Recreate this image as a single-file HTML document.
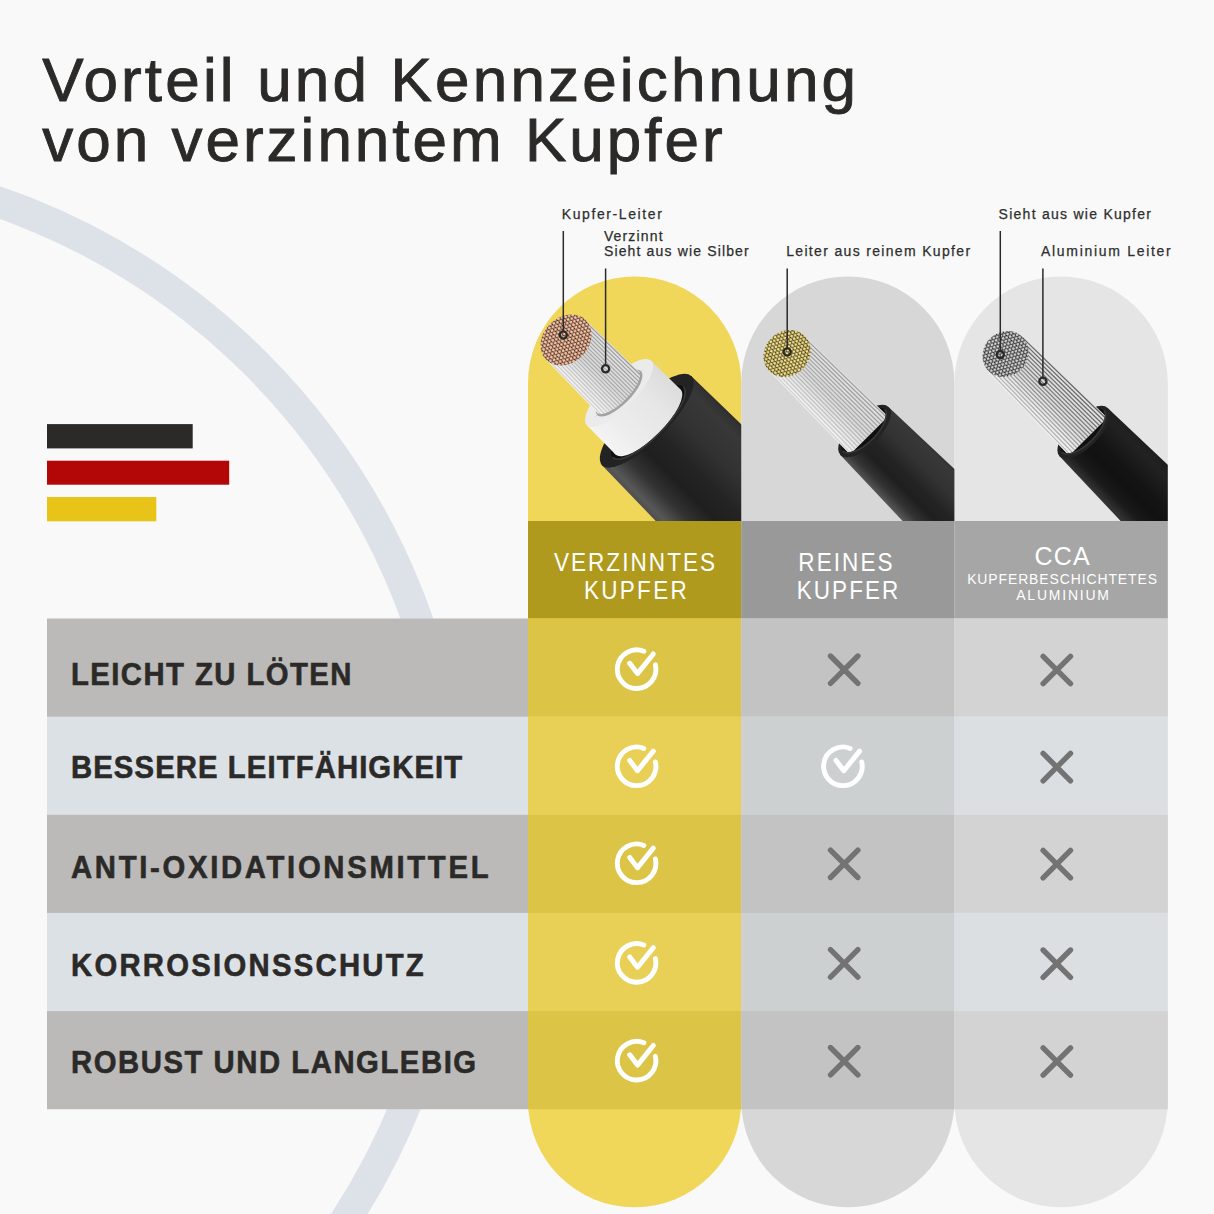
<!DOCTYPE html><html><head><meta charset="utf-8"><style>html,body{margin:0;padding:0;background:#f9f9f9;width:1214px;height:1214px;overflow:hidden}#root{position:relative;width:1214px;height:1214px}</style></head><body><div id="root">
<svg width="1214" height="1214" viewBox="0 0 1214 1214" style="position:absolute;left:0;top:0"><defs><clipPath id="cp0"><path d="M528,383.125 A106.625,106.625 0 0 1 741.25,383.125 L741.25,521 L528,521 Z"/></clipPath><clipPath id="cp1"><path d="M741.25,383.075 A106.57499999999999,106.57499999999999 0 0 1 954.4,383.075 L954.4,521 L741.25,521 Z"/></clipPath><clipPath id="cp2"><path d="M954.4,383.2 A106.69999999999999,106.69999999999999 0 0 1 1167.8,383.2 L1167.8,521 L954.4,521 Z"/></clipPath><linearGradient id="jk" x1="0" y1="0" x2="0" y2="1">
<stop offset="0" stop-color="#2a2a2a"/><stop offset="0.12" stop-color="#383838"/><stop offset="0.32" stop-color="#323232"/><stop offset="0.52" stop-color="#232323"/>
<stop offset="0.66" stop-color="#1f1f1f"/><stop offset="0.8" stop-color="#333333"/><stop offset="0.92" stop-color="#585858"/><stop offset="1" stop-color="#474747"/></linearGradient><linearGradient id="jk3" x1="0" y1="0" x2="0" y2="1">
<stop offset="0" stop-color="#1a1a1a"/><stop offset="0.18" stop-color="#222222"/><stop offset="0.45" stop-color="#141414"/><stop offset="0.6" stop-color="#111111"/>
<stop offset="0.78" stop-color="#1a1a1a"/><stop offset="0.9" stop-color="#333333"/><stop offset="0.97" stop-color="#2c2c2c"/><stop offset="1" stop-color="#1c1c1c"/></linearGradient><linearGradient id="sl" x1="0" y1="0" x2="0" y2="1">
<stop offset="0" stop-color="#dcdcdc"/><stop offset="0.3" stop-color="#e6e6e6"/><stop offset="0.7" stop-color="#ececec"/><stop offset="1" stop-color="#f4f4f4"/></linearGradient><linearGradient id="st" x1="0" y1="0" x2="0" y2="1">
<stop offset="0" stop-color="#e2e2e2"/><stop offset="0.5" stop-color="#dadada"/><stop offset="1" stop-color="#f4f4f4"/></linearGradient><pattern id="pc" width="3.7" height="6.409" patternUnits="userSpaceOnUse"><rect width="3.7" height="6.409" fill="#1e1410"/><circle cx="0" cy="0" r="1.65" fill="#fbc3a2"/><circle cx="3.7" cy="0" r="1.65" fill="#fbc3a2"/><circle cx="1.85" cy="3.204" r="1.65" fill="#fbc3a2"/><circle cx="0" cy="6.409" r="1.65" fill="#fbc3a2"/><circle cx="3.7" cy="6.409" r="1.65" fill="#fbc3a2"/></pattern><pattern id="pg" width="3.6" height="6.235" patternUnits="userSpaceOnUse"><rect width="3.6" height="6.235" fill="#1e1a0c"/><circle cx="0" cy="0" r="1.6" fill="#f2de86"/><circle cx="3.6" cy="0" r="1.6" fill="#f2de86"/><circle cx="1.8" cy="3.118" r="1.6" fill="#f2de86"/><circle cx="0" cy="6.235" r="1.6" fill="#f2de86"/><circle cx="3.6" cy="6.235" r="1.6" fill="#f2de86"/></pattern><pattern id="ps" width="3.6" height="6.235" patternUnits="userSpaceOnUse"><rect width="3.6" height="6.235" fill="#141414"/><circle cx="0" cy="0" r="1.5" fill="#cfcfcf"/><circle cx="3.6" cy="0" r="1.5" fill="#cfcfcf"/><circle cx="1.8" cy="3.118" r="1.5" fill="#cfcfcf"/><circle cx="0" cy="6.235" r="1.5" fill="#cfcfcf"/><circle cx="3.6" cy="6.235" r="1.5" fill="#cfcfcf"/></pattern></defs><rect width="1214" height="1214" fill="#f9f9f9"/><circle cx="-227" cy="847" r="683.2" fill="none" stroke="#dce2e8" stroke-width="31"/><path d="M528,383.125 A106.625,106.625 0 0 1 741.25,383.125 L741.25,1100.675 A106.625,106.625 0 0 1 528,1100.675 Z" fill="#f0d75a"/><path d="M741.25,383.075 A106.57499999999999,106.57499999999999 0 0 1 954.4,383.075 L954.4,1100.725 A106.57499999999999,106.57499999999999 0 0 1 741.25,1100.725 Z" fill="#d6d7d6"/><path d="M954.4,383.2 A106.69999999999999,106.69999999999999 0 0 1 1167.8,383.2 L1167.8,1100.6 A106.69999999999999,106.69999999999999 0 0 1 954.4,1100.6 Z" fill="#e4e5e4"/><rect x="47" y="618.5" width="481" height="490.75" fill="#bbbab8"/><rect x="47" y="716.65" width="481" height="98.15" fill="#dce1e6"/><rect x="47" y="912.95" width="481" height="98.15" fill="#dce1e6"/><rect x="528" y="521" width="213.25" height="97.5" fill="#b09a1d"/><rect x="528" y="618.5" width="213.25" height="98.15" fill="#dcc446"/><rect x="528" y="716.65" width="213.25" height="98.15" fill="#e8cf55"/><rect x="528" y="814.8" width="213.25" height="98.15" fill="#dcc446"/><rect x="528" y="912.95" width="213.25" height="98.15" fill="#e8cf55"/><rect x="528" y="1011.1" width="213.25" height="98.15" fill="#dcc446"/><rect x="741.25" y="521" width="213.15" height="97.5" fill="#999999"/><rect x="741.25" y="618.5" width="213.15" height="98.15" fill="#c3c3c3"/><rect x="741.25" y="716.65" width="213.15" height="98.15" fill="#cdd0d1"/><rect x="741.25" y="814.8" width="213.15" height="98.15" fill="#c3c3c3"/><rect x="741.25" y="912.95" width="213.15" height="98.15" fill="#cdd0d1"/><rect x="741.25" y="1011.1" width="213.15" height="98.15" fill="#c3c3c3"/><rect x="954.4" y="521" width="213.40" height="97.5" fill="#a5a6a5"/><rect x="954.4" y="618.5" width="213.40" height="98.15" fill="#d2d3d2"/><rect x="954.4" y="716.65" width="213.40" height="98.15" fill="#dcdfe1"/><rect x="954.4" y="814.8" width="213.40" height="98.15" fill="#d2d3d2"/><rect x="954.4" y="912.95" width="213.40" height="98.15" fill="#dcdfe1"/><rect x="954.4" y="1011.1" width="213.40" height="98.15" fill="#d2d3d2"/><g clip-path="url(#cp0)"><g transform="translate(566,340) rotate(45)"><path d="M114,-63 L414,-69.00 L414,69.00 L114,63 Z" fill="url(#jk)"/><ellipse cx="114" cy="0" rx="20.3" ry="63" fill="#232323"/><ellipse cx="116" cy="0" rx="16" ry="50" fill="#101010"/><path d="M75,-45.5 L116,-46 L116,46 L75,45.5 Z" fill="url(#sl)"/><ellipse cx="116" cy="0" rx="15.3" ry="46" fill="url(#sl)"/><path d="M114,-63 A20.3,63 0 0 1 114,63 L116,50 A16,50 0 0 0 116,-50 Z" fill="#232323" /><path d="M116,50 A16,50 0 0 0 116,-50" fill="none" stroke="#3a3a3a" stroke-width="1.5"/><ellipse cx="75" cy="0" rx="15.5" ry="45.5" fill="#ebebeb"/><ellipse cx="75" cy="0" rx="11.7" ry="31" fill="#a8a8a8"/><path d="M0,-28 L86.7,-29.5 L86.7,29.5 L0,28 Z" fill="url(#st)"/><line x1="0" y1="-26.60" x2="86.7" y2="-28.02" stroke="#888" stroke-width="1.2" stroke-opacity="0.79"/><line x1="0" y1="-23.80" x2="86.7" y2="-25.07" stroke="#888" stroke-width="1.2" stroke-opacity="0.76"/><line x1="0" y1="-21.00" x2="86.7" y2="-22.12" stroke="#888" stroke-width="1.2" stroke-opacity="0.74"/><line x1="0" y1="-18.20" x2="86.7" y2="-19.18" stroke="#888" stroke-width="1.2" stroke-opacity="0.71"/><line x1="0" y1="-15.40" x2="86.7" y2="-16.23" stroke="#888" stroke-width="1.2" stroke-opacity="0.69"/><line x1="0" y1="-12.60" x2="86.7" y2="-13.27" stroke="#888" stroke-width="1.2" stroke-opacity="0.66"/><line x1="0" y1="-9.80" x2="86.7" y2="-10.32" stroke="#888" stroke-width="1.2" stroke-opacity="0.64"/><line x1="0" y1="-7.00" x2="86.7" y2="-7.38" stroke="#888" stroke-width="1.2" stroke-opacity="0.61"/><line x1="0" y1="-4.20" x2="86.7" y2="-4.43" stroke="#888" stroke-width="1.2" stroke-opacity="0.59"/><line x1="0" y1="-1.40" x2="86.7" y2="-1.48" stroke="#888" stroke-width="1.2" stroke-opacity="0.56"/><line x1="0" y1="1.40" x2="86.7" y2="1.48" stroke="#888" stroke-width="1.2" stroke-opacity="0.54"/><line x1="0" y1="4.20" x2="86.7" y2="4.42" stroke="#888" stroke-width="1.2" stroke-opacity="0.51"/><line x1="0" y1="7.00" x2="86.7" y2="7.38" stroke="#888" stroke-width="1.2" stroke-opacity="0.49"/><line x1="0" y1="9.80" x2="86.7" y2="10.33" stroke="#888" stroke-width="1.2" stroke-opacity="0.46"/><line x1="0" y1="12.60" x2="86.7" y2="13.27" stroke="#888" stroke-width="1.2" stroke-opacity="0.44"/><line x1="0" y1="15.40" x2="86.7" y2="16.23" stroke="#888" stroke-width="1.2" stroke-opacity="0.41"/><line x1="0" y1="18.20" x2="86.7" y2="19.17" stroke="#888" stroke-width="1.2" stroke-opacity="0.39"/><line x1="0" y1="21.00" x2="86.7" y2="22.12" stroke="#888" stroke-width="1.2" stroke-opacity="0.36"/><line x1="0" y1="23.80" x2="86.7" y2="25.08" stroke="#888" stroke-width="1.2" stroke-opacity="0.34"/><line x1="0" y1="26.60" x2="86.7" y2="28.02" stroke="#888" stroke-width="1.2" stroke-opacity="0.31"/><path d="M75,31 A11.7,31 0 0 0 75,-31" fill="none" stroke="#a2a2a2" stroke-width="5"/><path d="M75,-45.5 A15.5,45.5 0 0 1 75,45.5 L75,31 A11.7,31 0 0 0 75,-31 Z" fill="#ebebeb" /><ellipse cx="0" cy="0" rx="22.6" ry="28" fill="url(#pc)"/></g></g><g clip-path="url(#cp1)"><g transform="translate(787,353.5) rotate(45)"><path d="M109.5,-34 L409.5,-43.00 L409.5,43.00 L109.5,34 Z" fill="url(#jk)"/><ellipse cx="109.5" cy="0" rx="15" ry="34" fill="#232323"/><ellipse cx="108.5" cy="0" rx="12.5" ry="29.5" fill="#101010"/><path d="M0,-25 L116.0,-27 L116.0,27 L0,25 Z" fill="url(#st)"/><line x1="0" y1="-23.53" x2="116.0" y2="-25.41" stroke="#888" stroke-width="1.2" stroke-opacity="0.79"/><line x1="0" y1="-20.59" x2="116.0" y2="-22.24" stroke="#888" stroke-width="1.2" stroke-opacity="0.76"/><line x1="0" y1="-17.65" x2="116.0" y2="-19.06" stroke="#888" stroke-width="1.2" stroke-opacity="0.73"/><line x1="0" y1="-14.71" x2="116.0" y2="-15.88" stroke="#888" stroke-width="1.2" stroke-opacity="0.70"/><line x1="0" y1="-11.76" x2="116.0" y2="-12.71" stroke="#888" stroke-width="1.2" stroke-opacity="0.67"/><line x1="0" y1="-8.82" x2="116.0" y2="-9.53" stroke="#888" stroke-width="1.2" stroke-opacity="0.64"/><line x1="0" y1="-5.88" x2="116.0" y2="-6.35" stroke="#888" stroke-width="1.2" stroke-opacity="0.61"/><line x1="0" y1="-2.94" x2="116.0" y2="-3.18" stroke="#888" stroke-width="1.2" stroke-opacity="0.58"/><line x1="0" y1="0.00" x2="116.0" y2="0.00" stroke="#888" stroke-width="1.2" stroke-opacity="0.55"/><line x1="0" y1="2.94" x2="116.0" y2="3.18" stroke="#888" stroke-width="1.2" stroke-opacity="0.52"/><line x1="0" y1="5.88" x2="116.0" y2="6.35" stroke="#888" stroke-width="1.2" stroke-opacity="0.49"/><line x1="0" y1="8.82" x2="116.0" y2="9.53" stroke="#888" stroke-width="1.2" stroke-opacity="0.46"/><line x1="0" y1="11.76" x2="116.0" y2="12.71" stroke="#888" stroke-width="1.2" stroke-opacity="0.43"/><line x1="0" y1="14.71" x2="116.0" y2="15.88" stroke="#888" stroke-width="1.2" stroke-opacity="0.40"/><line x1="0" y1="17.65" x2="116.0" y2="19.06" stroke="#888" stroke-width="1.2" stroke-opacity="0.37"/><line x1="0" y1="20.59" x2="116.0" y2="22.24" stroke="#888" stroke-width="1.2" stroke-opacity="0.34"/><line x1="0" y1="23.53" x2="116.0" y2="25.41" stroke="#888" stroke-width="1.2" stroke-opacity="0.31"/><path d="M108.5,29.5 A12.5,29.5 0 0 0 108.5,-29.5" fill="none" stroke="#151515" stroke-width="1.6"/><path d="M109.5,-34 A15,34 0 0 1 109.5,34 L108.5,29.5 A12.5,29.5 0 0 0 108.5,-29.5 Z" fill="#232323" /><path d="M108.5,29.5 A12.5,29.5 0 0 0 108.5,-29.5" fill="none" stroke="#3a3a3a" stroke-width="1.4"/><ellipse cx="0" cy="0" rx="22" ry="25" fill="url(#pg)"/></g></g><g clip-path="url(#cp2)"><g transform="translate(1005.5,354) rotate(45)"><path d="M110.5,-34 L410.5,-43.00 L410.5,43.00 L110.5,34 Z" fill="url(#jk3)"/><ellipse cx="110.5" cy="0" rx="15" ry="34" fill="#232323"/><ellipse cx="109.5" cy="0" rx="12.5" ry="29.5" fill="#101010"/><path d="M0,-25 L117.0,-27 L117.0,27 L0,25 Z" fill="url(#st)"/><line x1="0" y1="-23.53" x2="117.0" y2="-25.41" stroke="#5a5a5a" stroke-width="1.2" stroke-opacity="0.94"/><line x1="0" y1="-20.59" x2="117.0" y2="-22.24" stroke="#5a5a5a" stroke-width="1.2" stroke-opacity="0.91"/><line x1="0" y1="-17.65" x2="117.0" y2="-19.06" stroke="#5a5a5a" stroke-width="1.2" stroke-opacity="0.87"/><line x1="0" y1="-14.71" x2="117.0" y2="-15.88" stroke="#5a5a5a" stroke-width="1.2" stroke-opacity="0.84"/><line x1="0" y1="-11.76" x2="117.0" y2="-12.71" stroke="#5a5a5a" stroke-width="1.2" stroke-opacity="0.80"/><line x1="0" y1="-8.82" x2="117.0" y2="-9.53" stroke="#5a5a5a" stroke-width="1.2" stroke-opacity="0.77"/><line x1="0" y1="-5.88" x2="117.0" y2="-6.35" stroke="#5a5a5a" stroke-width="1.2" stroke-opacity="0.73"/><line x1="0" y1="-2.94" x2="117.0" y2="-3.18" stroke="#5a5a5a" stroke-width="1.2" stroke-opacity="0.70"/><line x1="0" y1="0.00" x2="117.0" y2="0.00" stroke="#5a5a5a" stroke-width="1.2" stroke-opacity="0.66"/><line x1="0" y1="2.94" x2="117.0" y2="3.18" stroke="#5a5a5a" stroke-width="1.2" stroke-opacity="0.62"/><line x1="0" y1="5.88" x2="117.0" y2="6.35" stroke="#5a5a5a" stroke-width="1.2" stroke-opacity="0.59"/><line x1="0" y1="8.82" x2="117.0" y2="9.53" stroke="#5a5a5a" stroke-width="1.2" stroke-opacity="0.55"/><line x1="0" y1="11.76" x2="117.0" y2="12.71" stroke="#5a5a5a" stroke-width="1.2" stroke-opacity="0.52"/><line x1="0" y1="14.71" x2="117.0" y2="15.88" stroke="#5a5a5a" stroke-width="1.2" stroke-opacity="0.48"/><line x1="0" y1="17.65" x2="117.0" y2="19.06" stroke="#5a5a5a" stroke-width="1.2" stroke-opacity="0.45"/><line x1="0" y1="20.59" x2="117.0" y2="22.24" stroke="#5a5a5a" stroke-width="1.2" stroke-opacity="0.41"/><line x1="0" y1="23.53" x2="117.0" y2="25.41" stroke="#5a5a5a" stroke-width="1.2" stroke-opacity="0.38"/><path d="M109.5,29.5 A12.5,29.5 0 0 0 109.5,-29.5" fill="none" stroke="#151515" stroke-width="1.6"/><path d="M110.5,-34 A15,34 0 0 1 110.5,34 L109.5,29.5 A12.5,29.5 0 0 0 109.5,-29.5 Z" fill="#232323" /><path d="M109.5,29.5 A12.5,29.5 0 0 0 109.5,-29.5" fill="none" stroke="#3a3a3a" stroke-width="1.4"/><ellipse cx="0" cy="0" rx="22" ry="24" fill="url(#ps)"/></g></g><line x1="563.3" y1="231" x2="563.3" y2="331" stroke="#2a2a2a" stroke-width="1.5"/><circle cx="563.3" cy="335" r="3.6" fill="none" stroke="#2a2a2a" stroke-width="2.3"/><line x1="605.6" y1="268.5" x2="605.6" y2="364.8" stroke="#2a2a2a" stroke-width="1.5"/><circle cx="605.6" cy="368.8" r="3.6" fill="none" stroke="#2a2a2a" stroke-width="2.3"/><line x1="787.2" y1="268.5" x2="787.2" y2="348" stroke="#2a2a2a" stroke-width="1.5"/><circle cx="787.2" cy="352" r="3.6" fill="none" stroke="#2a2a2a" stroke-width="2.3"/><line x1="1000.3" y1="231" x2="1000.3" y2="350.6" stroke="#2a2a2a" stroke-width="1.5"/><circle cx="1000.3" cy="354.6" r="3.6" fill="none" stroke="#2a2a2a" stroke-width="2.3"/><line x1="1042.9" y1="268.5" x2="1042.9" y2="377.3" stroke="#2a2a2a" stroke-width="1.5"/><circle cx="1042.9" cy="381.3" r="3.6" fill="none" stroke="#2a2a2a" stroke-width="2.3"/><rect x="47" y="424.1" width="145.7" height="24.3" fill="#2b2a29"/><rect x="47" y="460.7" width="182.2" height="24" fill="#b30606"/><rect x="47" y="497" width="109.3" height="24.3" fill="#e9c418"/><path d="M655.41,664.86 A19.3,19.3 0 1 1 643.83,651.31" fill="none" stroke="#ffffff" stroke-width="4.9" stroke-linecap="round"/><path d="M629.70,663.30 L637.50,673.60 L653.30,654.00" fill="none" stroke="#ffffff" stroke-width="5" stroke-linecap="round" stroke-linejoin="round"/><path d="M830.50,656.00 L857.90,683.40 M857.90,656.00 L830.50,683.40" stroke="#737373" stroke-width="5.4" stroke-linecap="round"/><path d="M1043.10,656.30 L1070.50,683.70 M1070.50,656.30 L1043.10,683.70" stroke="#737373" stroke-width="5.4" stroke-linecap="round"/><path d="M655.41,761.96 A19.3,19.3 0 1 1 643.83,748.41" fill="none" stroke="#ffffff" stroke-width="4.9" stroke-linecap="round"/><path d="M629.70,760.40 L637.50,770.70 L653.30,751.10" fill="none" stroke="#ffffff" stroke-width="5" stroke-linecap="round" stroke-linejoin="round"/><path d="M861.71,761.96 A19.3,19.3 0 1 1 850.13,748.41" fill="none" stroke="#ffffff" stroke-width="4.9" stroke-linecap="round"/><path d="M836.00,760.40 L843.80,770.70 L859.60,751.10" fill="none" stroke="#ffffff" stroke-width="5" stroke-linecap="round" stroke-linejoin="round"/><path d="M1043.10,753.40 L1070.50,780.80 M1070.50,753.40 L1043.10,780.80" stroke="#737373" stroke-width="5.4" stroke-linecap="round"/><path d="M655.41,858.96 A19.3,19.3 0 1 1 643.83,845.41" fill="none" stroke="#ffffff" stroke-width="4.9" stroke-linecap="round"/><path d="M629.70,857.40 L637.50,867.70 L653.30,848.10" fill="none" stroke="#ffffff" stroke-width="5" stroke-linecap="round" stroke-linejoin="round"/><path d="M830.50,850.10 L857.90,877.50 M857.90,850.10 L830.50,877.50" stroke="#737373" stroke-width="5.4" stroke-linecap="round"/><path d="M1043.10,850.40 L1070.50,877.80 M1070.50,850.40 L1043.10,877.80" stroke="#737373" stroke-width="5.4" stroke-linecap="round"/><path d="M655.41,958.56 A19.3,19.3 0 1 1 643.83,945.01" fill="none" stroke="#ffffff" stroke-width="4.9" stroke-linecap="round"/><path d="M629.70,957.00 L637.50,967.30 L653.30,947.70" fill="none" stroke="#ffffff" stroke-width="5" stroke-linecap="round" stroke-linejoin="round"/><path d="M830.50,949.70 L857.90,977.10 M857.90,949.70 L830.50,977.10" stroke="#737373" stroke-width="5.4" stroke-linecap="round"/><path d="M1043.10,950.00 L1070.50,977.40 M1070.50,950.00 L1043.10,977.40" stroke="#737373" stroke-width="5.4" stroke-linecap="round"/><path d="M655.41,1056.36 A19.3,19.3 0 1 1 643.83,1042.81" fill="none" stroke="#ffffff" stroke-width="4.9" stroke-linecap="round"/><path d="M629.70,1054.80 L637.50,1065.10 L653.30,1045.50" fill="none" stroke="#ffffff" stroke-width="5" stroke-linecap="round" stroke-linejoin="round"/><path d="M830.50,1047.50 L857.90,1074.90 M857.90,1047.50 L830.50,1074.90" stroke="#737373" stroke-width="5.4" stroke-linecap="round"/><path d="M1043.10,1047.80 L1070.50,1075.20 M1070.50,1047.80 L1043.10,1075.20" stroke="#737373" stroke-width="5.4" stroke-linecap="round"/></svg>
<div style="position:absolute;left:42.30px;top:49.52px;font:400 62px/60px 'Liberation Sans', sans-serif;color:#2b2a29;letter-spacing:3.17px;white-space:nowrap;-webkit-text-stroke:0.9px #2b2a29">Vorteil und Kennzeichnung</div>
<div style="position:absolute;left:42.30px;top:109.52px;font:400 62px/60px 'Liberation Sans', sans-serif;color:#2b2a29;letter-spacing:3.0px;white-space:nowrap;-webkit-text-stroke:0.9px #2b2a29">von verzinntem Kupfer</div>
<div style="position:absolute;left:561.70px;top:206.95px;font:400 14px/15px 'Liberation Sans', sans-serif;color:#2e2e2e;letter-spacing:1.6px;white-space:nowrap;-webkit-text-stroke:0.25px #2e2e2e">Kupfer-Leiter</div>
<div style="position:absolute;left:603.90px;top:228.65px;font:400 14px/15px 'Liberation Sans', sans-serif;color:#2e2e2e;letter-spacing:1.15px;white-space:nowrap;-webkit-text-stroke:0.25px #2e2e2e">Verzinnt<br>Sieht aus wie Silber</div>
<div style="position:absolute;left:786.20px;top:244.05px;font:400 14px/15px 'Liberation Sans', sans-serif;color:#2e2e2e;letter-spacing:1.33px;white-space:nowrap;-webkit-text-stroke:0.25px #2e2e2e">Leiter aus reinem Kupfer</div>
<div style="position:absolute;left:998.60px;top:206.95px;font:400 14px/15px 'Liberation Sans', sans-serif;color:#2e2e2e;letter-spacing:1.26px;white-space:nowrap;-webkit-text-stroke:0.25px #2e2e2e">Sieht aus wie Kupfer</div>
<div style="position:absolute;left:1041.00px;top:244.05px;font:400 14px/15px 'Liberation Sans', sans-serif;color:#2e2e2e;letter-spacing:1.7px;white-space:nowrap;-webkit-text-stroke:0.25px #2e2e2e">Aluminium Leiter</div>
<div style="position:absolute;left:529.45px;top:548.14px;width:213px;text-align:center;font:400 25px/28px 'Liberation Sans', sans-serif;color:#ffffff;letter-spacing:2.3px;white-space:nowrap;transform:scaleX(0.9);transform-origin:50% 0;">VERZINNTES</div>
<div style="position:absolute;left:529.59px;top:576.14px;width:213px;text-align:center;font:400 25px/28px 'Liberation Sans', sans-serif;color:#ffffff;letter-spacing:2.58px;white-space:nowrap;transform:scaleX(0.9);transform-origin:50% 0;">KUPFER</div>
<div style="position:absolute;left:740.26px;top:548.14px;width:213px;text-align:center;font:400 25px/28px 'Liberation Sans', sans-serif;color:#ffffff;letter-spacing:2.32px;white-space:nowrap;transform:scaleX(0.9);transform-origin:50% 0;">REINES</div>
<div style="position:absolute;left:742.04px;top:576.14px;width:213px;text-align:center;font:400 25px/28px 'Liberation Sans', sans-serif;color:#ffffff;letter-spacing:2.28px;white-space:nowrap;transform:scaleX(0.9);transform-origin:50% 0;">KUPFER</div>
<div style="position:absolute;left:956.30px;top:542.44px;width:213px;text-align:center;font:400 25px/28px 'Liberation Sans', sans-serif;color:#ffffff;letter-spacing:1.2px;white-space:nowrap;">CCA</div>
<div style="position:absolute;left:956.20px;top:570.58px;width:213px;text-align:center;font:400 15.5px/16.7px 'Liberation Sans', sans-serif;color:#ffffff;letter-spacing:1.0px;white-space:nowrap;transform:scaleX(0.9);transform-origin:50% 0;">KUPFERBESCHICHTETES</div>
<div style="position:absolute;left:957.11px;top:587.28px;width:213px;text-align:center;font:400 15.5px/16.7px 'Liberation Sans', sans-serif;color:#ffffff;letter-spacing:2.01px;white-space:nowrap;transform:scaleX(0.9);transform-origin:50% 0;">ALUMINIUM</div>
<div style="position:absolute;left:71.00px;top:654.09px;font:700 31.5px/40px 'Liberation Sans', sans-serif;color:#2b2a29;letter-spacing:1.54px;white-space:nowrap;transform:scaleX(0.93);transform-origin:0 0;-webkit-text-stroke:0.6px #2b2a29;">LEICHT ZU LÖTEN</div>
<div style="position:absolute;left:71.00px;top:747.19px;font:700 31.5px/40px 'Liberation Sans', sans-serif;color:#2b2a29;letter-spacing:1.17px;white-space:nowrap;transform:scaleX(0.93);transform-origin:0 0;-webkit-text-stroke:0.6px #2b2a29;">BESSERE LEITFÄHIGKEIT</div>
<div style="position:absolute;left:71.00px;top:847.39px;font:700 31.5px/40px 'Liberation Sans', sans-serif;color:#2b2a29;letter-spacing:2.88px;white-space:nowrap;transform:scaleX(0.93);transform-origin:0 0;-webkit-text-stroke:0.6px #2b2a29;">ANTI-OXIDATIONSMITTEL</div>
<div style="position:absolute;left:71.00px;top:944.89px;font:700 31.5px/40px 'Liberation Sans', sans-serif;color:#2b2a29;letter-spacing:2.42px;white-space:nowrap;transform:scaleX(0.93);transform-origin:0 0;-webkit-text-stroke:0.6px #2b2a29;">KORROSIONSSCHUTZ</div>
<div style="position:absolute;left:71.00px;top:1041.89px;font:700 31.5px/40px 'Liberation Sans', sans-serif;color:#2b2a29;letter-spacing:1.65px;white-space:nowrap;transform:scaleX(0.93);transform-origin:0 0;-webkit-text-stroke:0.6px #2b2a29;">ROBUST UND LANGLEBIG</div>
</div></body></html>
